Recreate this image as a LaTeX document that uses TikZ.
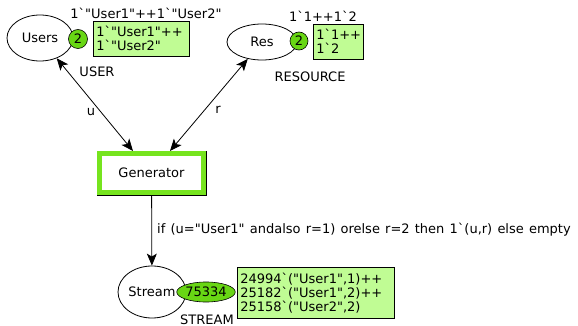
\documentclass[tikz,border=0pt]{standalone}
\usepackage{fontspec}
\setmainfont{DejaVu Sans}[Ligatures=TeXOff]
\usetikzlibrary{arrows.meta,shapes.geometric}
\definecolor{tokgreen}{RGB}{104,214,20}
\definecolor{boxgreen}{RGB}{192,252,148}
\definecolor{genborder}{RGB}{118,228,30}
\tikzset{
  place/.style={draw,ellipse,inner sep=0pt,line width=0.8pt},
  tok/.style={draw,fill=tokgreen,inner sep=0pt,line width=0.6pt},
  mbox/.style={draw,fill=boxgreen,line width=0.6pt,anchor=north west,align=left,inner xsep=3pt,inner ysep=2pt},
  lbl/.style={inner sep=0pt},
  arc/.style={line width=0.8pt,{Stealth[length=12pt,width=10pt,inset=3pt]}-{Stealth[length=12pt,width=10pt,inset=3pt]}},
  arcone/.style={line width=0.8pt,-{Stealth[length=12pt,width=10pt,inset=3pt]}}
}
\begin{document}
\begin{tikzpicture}[x=1pt,y=-1pt,font=\fontsize{13}{14}\selectfont]
\useasboundingbox (0,0) rectangle (578,326);
% Users
\node[place,minimum width=66,minimum height=46] (users) at (40,38) {Users};
\node[tok,circle,minimum size=19] (ut) at (78,39) {2};
\node[mbox,minimum width=96,minimum height=35,text width=90] (ub) at (93,21) {1`"User1"++\\1`"User2"};
\node[lbl] (ui) at (146,13) {1`"User1"++1`"User2"};
\node[lbl] (utype) at (97,72) {USER};
% Res
\node[place,minimum width=70,minimum height=36] (res) at (262,42) {Res};
\node[tok,circle,minimum size=18] (rt) at (299,41) {2};
\node[mbox,minimum width=50,minimum height=35,text width=44] (rb) at (313,24) {1`1++\\1`2};
\node[lbl] (ri) at (323,16) {1`1++1`2};
\node[lbl] (rtype) at (310,77) {RESOURCE};
% Generator
\node[draw,line width=0.6pt,minimum width=109,minimum height=44,inner sep=0pt] (gen) at (151.5,173) {};
\draw[genborder,line width=5pt] ([shift={(3,-3)}]gen.south west) rectangle ([shift={(-3,3)}]gen.north east);
\node[lbl] (gent) at (gen.center) {Generator};
% Stream
\node[place,minimum width=68,minimum height=52] (stream) at (152,292) {Stream};
\node[tok,ellipse,minimum width=54,minimum height=20] (st) at (206,292) {75334};
\node[mbox,minimum width=157,minimum height=51,text width=151] (sb) at (237,267) {24994`("User1",1)++\\25182`("User1",2)++\\25158`("User2",2)};
\node[lbl] (stype) at (207,319.5) {STREAM};
% arcs
\coordinate (g1) at (133,151);
\coordinate (g2) at (170,151);
\draw[arc] (users) -- (g1);
\draw[arc] (res) -- (g2);
\draw[arcone] (gen) -- (stream);
\node[lbl] (lu) at (91,112) {u};
\node[lbl] (lr) at (218,110) {r};
\node[lbl,anchor=west] (lif) at (157,230) {\spaceskip=5.2pt if (u="User1" andalso r=1) orelse r=2 then 1`(u,r) else empty};
\end{tikzpicture}
\end{document}
